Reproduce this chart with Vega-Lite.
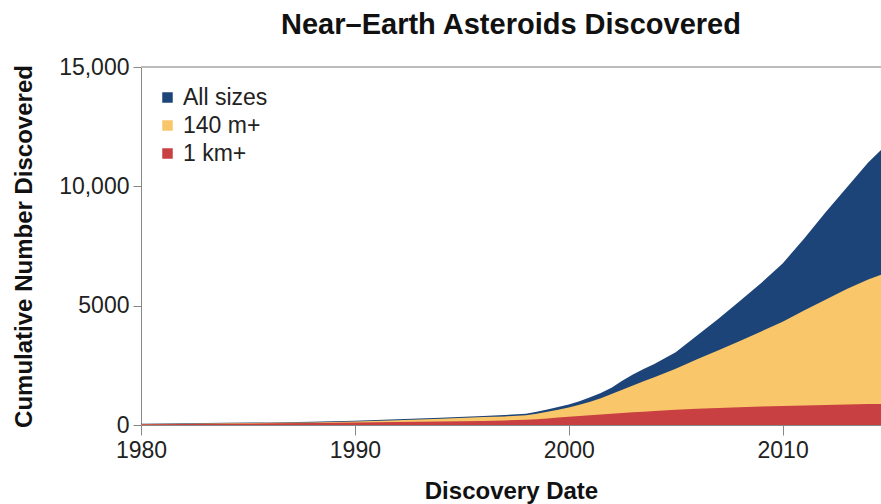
{
  "$schema": "https://vega.github.io/schema/vega-lite/v6.json",
  "width": 740,
  "height": 358,
  "autosize": {"type": "none"},
  "padding": {"left": 141, "top": 67, "right": 0, "bottom": 79},
  "background": "white",
  "config": {
    "font": "Liberation Sans",
    "view": {"stroke": null},
    "axis": {"domainColor": "#888888", "tickColor": "#888888", "labelColor": "#222222", "titleColor": "#111111", "grid": false}
  },
  "title": {"text": "Near–Earth Asteroids Discovered", "fontSize": 29, "fontWeight": "bold", "anchor": "middle", "color": "#111111", "offset": 16},
  "datasets": {
    "neas": [
      {"year": 1980, "series": "All sizes", "count": 50}, {"year": 1980, "series": "140 m+", "count": 40}, {"year": 1980, "series": "1 km+", "count": 30},
      {"year": 1982, "series": "All sizes", "count": 70}, {"year": 1982, "series": "140 m+", "count": 55}, {"year": 1982, "series": "1 km+", "count": 45},
      {"year": 1984, "series": "All sizes", "count": 90}, {"year": 1984, "series": "140 m+", "count": 70}, {"year": 1984, "series": "1 km+", "count": 55},
      {"year": 1986, "series": "All sizes", "count": 110}, {"year": 1986, "series": "140 m+", "count": 90}, {"year": 1986, "series": "1 km+", "count": 70},
      {"year": 1988, "series": "All sizes", "count": 140}, {"year": 1988, "series": "140 m+", "count": 110}, {"year": 1988, "series": "1 km+", "count": 85},
      {"year": 1990, "series": "All sizes", "count": 180}, {"year": 1990, "series": "140 m+", "count": 150}, {"year": 1990, "series": "1 km+", "count": 105},
      {"year": 1992, "series": "All sizes", "count": 240}, {"year": 1992, "series": "140 m+", "count": 200}, {"year": 1992, "series": "1 km+", "count": 125},
      {"year": 1994, "series": "All sizes", "count": 300}, {"year": 1994, "series": "140 m+", "count": 260}, {"year": 1994, "series": "1 km+", "count": 145},
      {"year": 1996, "series": "All sizes", "count": 380}, {"year": 1996, "series": "140 m+", "count": 330}, {"year": 1996, "series": "1 km+", "count": 170},
      {"year": 1997, "series": "All sizes", "count": 420}, {"year": 1997, "series": "140 m+", "count": 360}, {"year": 1997, "series": "1 km+", "count": 190},
      {"year": 1998, "series": "All sizes", "count": 470}, {"year": 1998, "series": "140 m+", "count": 410}, {"year": 1998, "series": "1 km+", "count": 215},
      {"year": 1998.5, "series": "All sizes", "count": 550}, {"year": 1998.5, "series": "140 m+", "count": 470}, {"year": 1998.5, "series": "1 km+", "count": 240},
      {"year": 1999, "series": "All sizes", "count": 650}, {"year": 1999, "series": "140 m+", "count": 550}, {"year": 1999, "series": "1 km+", "count": 275},
      {"year": 1999.5, "series": "All sizes", "count": 750}, {"year": 1999.5, "series": "140 m+", "count": 640}, {"year": 1999.5, "series": "1 km+", "count": 310},
      {"year": 2000, "series": "All sizes", "count": 860}, {"year": 2000, "series": "140 m+", "count": 730}, {"year": 2000, "series": "1 km+", "count": 345},
      {"year": 2000.5, "series": "All sizes", "count": 1000}, {"year": 2000.5, "series": "140 m+", "count": 850}, {"year": 2000.5, "series": "1 km+", "count": 380},
      {"year": 2001, "series": "All sizes", "count": 1160}, {"year": 2001, "series": "140 m+", "count": 970}, {"year": 2001, "series": "1 km+", "count": 410},
      {"year": 2001.5, "series": "All sizes", "count": 1340}, {"year": 2001.5, "series": "140 m+", "count": 1120}, {"year": 2001.5, "series": "1 km+", "count": 440},
      {"year": 2002, "series": "All sizes", "count": 1560}, {"year": 2002, "series": "140 m+", "count": 1300}, {"year": 2002, "series": "1 km+", "count": 470},
      {"year": 2002.5, "series": "All sizes", "count": 1850}, {"year": 2002.5, "series": "140 m+", "count": 1480}, {"year": 2002.5, "series": "1 km+", "count": 500},
      {"year": 2003, "series": "All sizes", "count": 2120}, {"year": 2003, "series": "140 m+", "count": 1660}, {"year": 2003, "series": "1 km+", "count": 530},
      {"year": 2003.5, "series": "All sizes", "count": 2350}, {"year": 2003.5, "series": "140 m+", "count": 1830}, {"year": 2003.5, "series": "1 km+", "count": 560},
      {"year": 2004, "series": "All sizes", "count": 2560}, {"year": 2004, "series": "140 m+", "count": 2000}, {"year": 2004, "series": "1 km+", "count": 590},
      {"year": 2005, "series": "All sizes", "count": 3050}, {"year": 2005, "series": "140 m+", "count": 2360}, {"year": 2005, "series": "1 km+", "count": 640},
      {"year": 2006, "series": "All sizes", "count": 3750}, {"year": 2006, "series": "140 m+", "count": 2750}, {"year": 2006, "series": "1 km+", "count": 680},
      {"year": 2007, "series": "All sizes", "count": 4450}, {"year": 2007, "series": "140 m+", "count": 3130}, {"year": 2007, "series": "1 km+", "count": 715},
      {"year": 2008, "series": "All sizes", "count": 5200}, {"year": 2008, "series": "140 m+", "count": 3520}, {"year": 2008, "series": "1 km+", "count": 745},
      {"year": 2009, "series": "All sizes", "count": 5950}, {"year": 2009, "series": "140 m+", "count": 3920}, {"year": 2009, "series": "1 km+", "count": 770},
      {"year": 2010, "series": "All sizes", "count": 6770}, {"year": 2010, "series": "140 m+", "count": 4330}, {"year": 2010, "series": "1 km+", "count": 795},
      {"year": 2011, "series": "All sizes", "count": 7800}, {"year": 2011, "series": "140 m+", "count": 4800}, {"year": 2011, "series": "1 km+", "count": 820},
      {"year": 2012, "series": "All sizes", "count": 8900}, {"year": 2012, "series": "140 m+", "count": 5250}, {"year": 2012, "series": "1 km+", "count": 840},
      {"year": 2013, "series": "All sizes", "count": 9950}, {"year": 2013, "series": "140 m+", "count": 5700}, {"year": 2013, "series": "1 km+", "count": 860},
      {"year": 2014, "series": "All sizes", "count": 11000}, {"year": 2014, "series": "140 m+", "count": 6100}, {"year": 2014, "series": "1 km+", "count": 875},
      {"year": 2014.6, "series": "All sizes", "count": 11520}, {"year": 2014.6, "series": "140 m+", "count": 6300}, {"year": 2014.6, "series": "1 km+", "count": 885}
    ]
  },
  "data": {"name": "neas"},
  "encoding": {
    "x": {"field": "year", "type": "quantitative",
      "scale": {"domain": [1980, 2014.6], "nice": false, "zero": false},
      "axis": {"values": [1980, 1990, 2000, 2010], "format": "d", "title": "Discovery Date", "labelFontSize": 23, "titleFontSize": 24, "titleFontWeight": "bold", "tickSize": 10, "labelPadding": 4, "titlePadding": 17, "labelFlush": false}},
    "y": {"field": "count", "type": "quantitative", "stack": null,
      "scale": {"domain": [0, 15000], "nice": false},
      "axis": {"values": [0, 5000, 10000, 15000], "labelExpr": "datum.value >= 10000 ? format(datum.value, ',') : format(datum.value, 'd')", "title": "Cumulative Number Discovered", "labelFontSize": 23, "titleFontSize": 24, "titleFontWeight": "bold", "tickSize": 8, "labelPadding": 4, "titlePadding": 22}},
    "color": {"field": "series", "type": "nominal",
      "scale": {"domain": ["All sizes", "140 m+", "1 km+"], "range": ["#1c4478", "#f9c66a", "#c84041"]},
      "legend": {"title": null, "orient": "none", "legendX": 15, "legendY": 19, "symbolType": "square", "symbolSize": 110, "symbolStrokeWidth": 0, "labelFontSize": 23, "labelColor": "#222222", "rowPadding": 4, "labelOffset": 4}}
  },
  "layer": [
    {"transform": [{"filter": "datum.series == 'All sizes'"}], "mark": {"type": "area", "opacity": 1}},
    {"transform": [{"filter": "datum.series == '140 m+'"}], "mark": {"type": "area", "opacity": 1}},
    {"transform": [{"filter": "datum.series == '1 km+'"}], "mark": {"type": "area", "opacity": 1}},
    {"mark": {"type": "rule", "color": "#bbbbbb", "strokeWidth": 1}, "encoding": {"y": {"datum": 15000}, "x": null, "color": null}}
  ]
}
